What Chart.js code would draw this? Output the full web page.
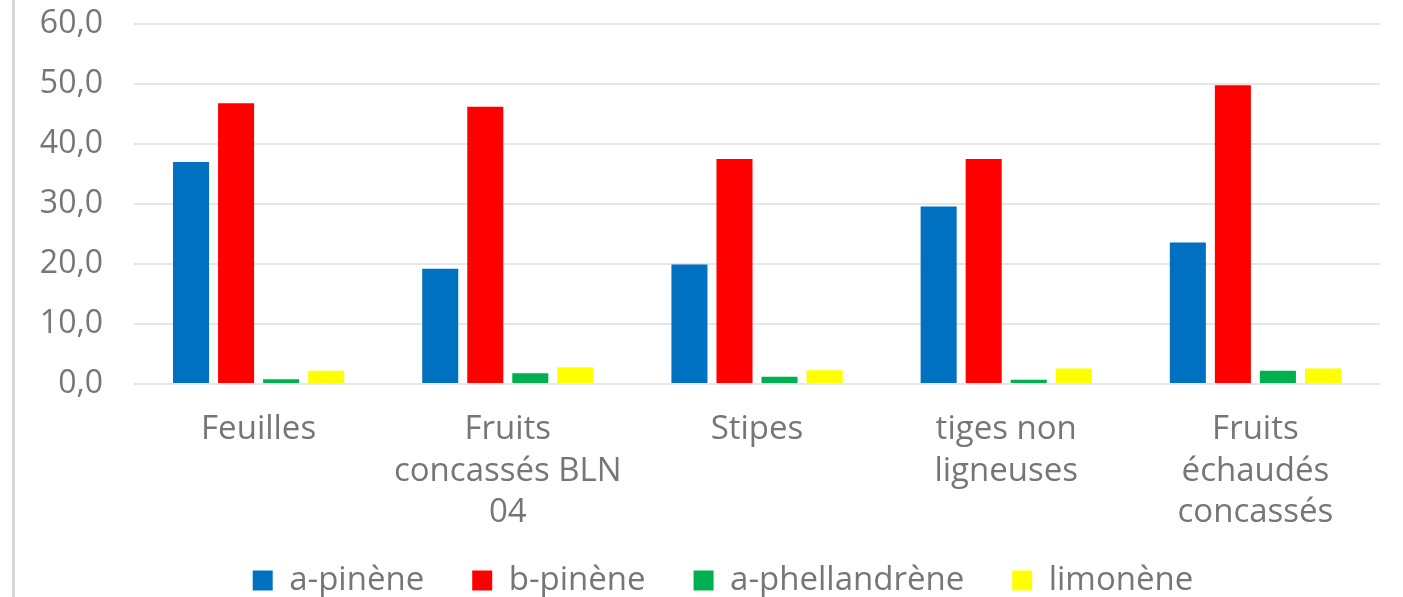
<!DOCTYPE html>
<html>
<head>
<meta charset="utf-8">
<script src="https://cdn.jsdelivr.net/npm/chart.js@4.4.1/dist/chart.umd.min.js"></script>
<style>
  html, body { margin: 0; padding: 0; background: #fff; overflow: hidden; }
  #wrap { position: relative; width: 1403px; height: 597px; overflow: hidden; }
  #edge { position: absolute; left: 12px; top: 0; width: 3px; height: 100%; background: #d6d6d6; }
</style>
</head>
<body>
<div id="wrap">
  <canvas id="BarChart" width="1403" height="625"></canvas>
  <div id="edge"></div>
</div>
<script>
const categories = [
  "Feuilles",
  ["Fruits", "concassés BLN", "04"],
  "Stipes",
  ["tiges non", "ligneuses"],
  ["Fruits", "échaudés", "concassés"],
];
const seriesNames = ["a-pinène", "b-pinène", "a-phellandrène", "limonène"];
const aPinene = [37.0, 19.2, 19.9, 29.6, 23.6];
const bPinene = [46.8, 46.2, 37.5, 37.5, 49.8];
const aPhellandrene = [0.8, 1.8, 1.2, 0.7, 2.2];
const limonene = [2.2, 2.8, 2.3, 2.6, 2.6];
const yTicks = [0, 10, 20, 30, 40, 50, 60];

const colors = ["#0070C0", "#FF0000", "#00B050", "#FFFF00"];
const textColor = "#767676";
const font = "'Open Sans', 'Noto Sans', sans-serif";

// nudge the legend box after layout so it sits under the plot, not the canvas
const legendShift = {
  id: "legendShift",
  afterLayout(chart) {
    const lg = chart.legend;
    if (!lg) return;
    lg.left += 33;
    lg.right += 33;
    lg.top -= 18;
    lg.bottom -= 18;
  },
};

const ctx = document.getElementById("BarChart").getContext("2d");

new Chart(ctx, {
  type: "bar",
  data: {
    labels: categories,
    datasets: [aPinene, bPinene, aPhellandrene, limonene].map((vals, i) => ({
      label: seriesNames[i],
      data: vals,
      backgroundColor: colors[i],
      borderWidth: 0,
      barPercentage: 0.8,
      categoryPercentage: 0.723,
    })),
  },
  options: {
    responsive: false,
    animation: false,
    layout: { padding: { left: 0, right: 23, top: 24, bottom: 0 } },
    plugins: {
      tooltip: { enabled: false },
      legend: {
        position: "bottom",
        labels: {
          color: textColor,
          font: { family: font, size: 33 },
          boxWidth: 20,
          boxHeight: 20,
          padding: 48,
        },
      },
    },
    scales: {
      x: {
        grid: { display: false, drawTicks: false },
        border: { display: false },
        ticks: {
          color: textColor,
          font: { family: font, size: 33, lineHeight: 1.26 },
          padding: 25,
          maxRotation: 0,
          autoSkip: false,
        },
        afterFit: (scale) => { scale.height = 150; },
      },
      y: {
        min: 0,
        max: 60,
        afterBuildTicks: (scale) => { scale.ticks = yTicks.map((v) => ({ value: v })); },
        // invisible tick marks keep the labels away from the plot
        grid: { color: "#e6e6e6", lineWidth: 2, drawTicks: true, tickLength: 31, tickColor: "rgba(0,0,0,0)" },
        border: { display: false },
        ticks: {
          color: textColor,
          font: { family: font, size: 32 },
          padding: 0,
          callback: (v) => v.toFixed(1).replace(".", ","),
        },
        afterFit: (scale) => { scale.width = 134; },
      },
    },
  },
  plugins: [legendShift],
});
</script>
</body>
</html>
